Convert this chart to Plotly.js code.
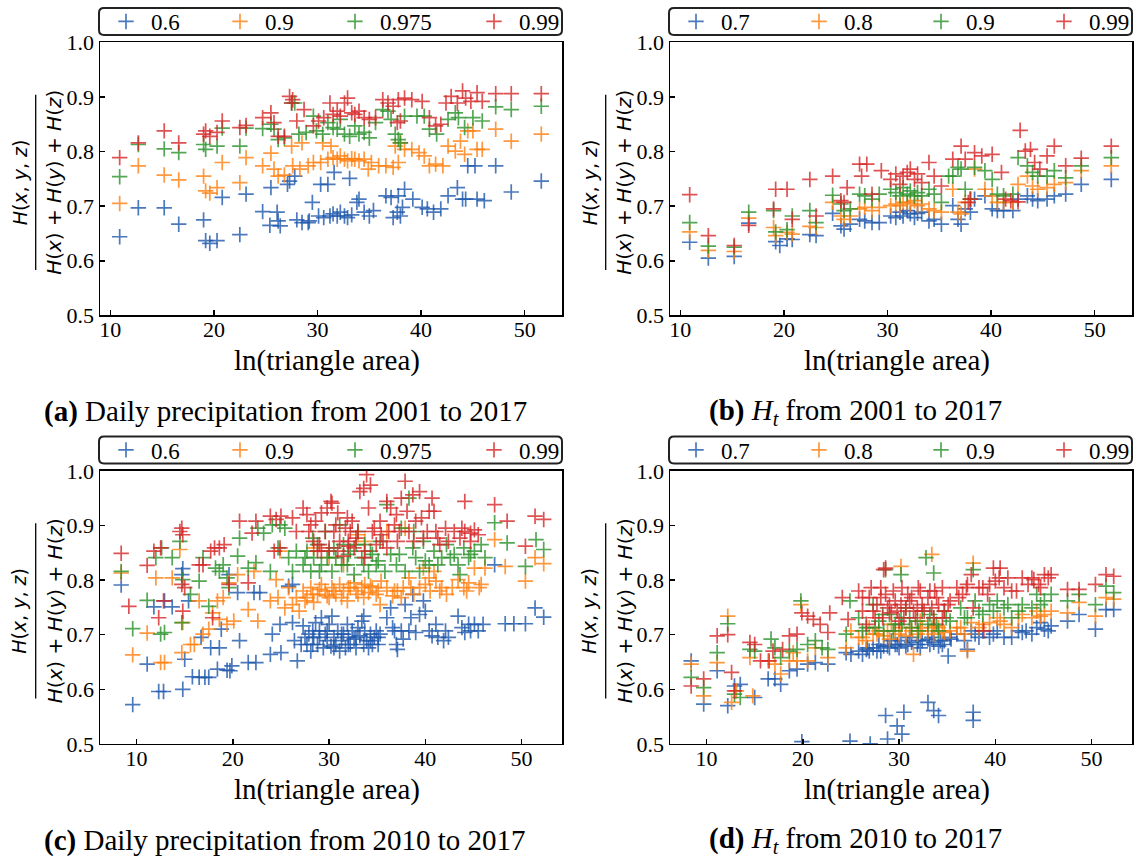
<!DOCTYPE html>
<html><head><meta charset="utf-8">
<script src="https://cdn.plot.ly/plotly-3.0.1.min.js"></script>
<style>html,body{margin:0;padding:0;background:#fff}#chart{width:1140px;height:859px}</style>
</head><body><div id="chart"></div>
<script>
const W = 1140, H = 859;

// ---------- labels ----------
const labelsPrecip = ['0.6', '0.9', '0.975', '0.99'];
const labelsHt = ['0.7', '0.8', '0.9', '0.99'];
const captionTexts = [
  '<b>(a)</b> Daily precipitation from 2001 to 2017',
  '<b>(b)</b> <i>H</i><sub><i>t</i></sub> from 2001 to 2017',
  '<b>(c)</b> Daily precipitation from 2010 to 2017',
  '<b>(d)</b> <i>H</i><sub><i>t</i></sub> from 2010 to 2017'
];
const xTitle = 'ln(triangle area)';
const yNum = '<i>H</i>(<i>x</i>, <i>y</i>, <i>z</i>)';
const yDen = '<i>H</i>(<i>x</i>) + <i>H</i>(<i>y</i>) + <i>H</i>(<i>z</i>)';
const colors = ['#1f58ad', '#ff7f0e', '#2a922a', '#d62728'];

// ---------- panel (a) ----------
const a1x = [10.9,12.7,15.2,16.6,19.0,19.2,19.6,20.3,20.8,22.5,23.1,25.5,24.7,26.1,26.2,25.4,26.4,27.3,27.8,27.1,28.0,28.5,29.1,29.2,29.5,30.3,31.0,31.6,33.1,30.1,30.6,31.2,31.5,31.9,32.2,32.6,32.9,33.3,33.8,34.0,34.5,35.0,35.4,36.6,37.1,37.3,37.7,38.0,38.2,38.4,37.8,39.2,40.1,40.6,41.2,41.9,42.6,43.5,44.0,44.3,45.4,46.1,44.5,45.2,47.2,48.7,51.6];
const a1y = [0.644,0.697,0.697,0.667,0.675,0.637,0.632,0.637,0.716,0.648,0.722,0.734,0.690,0.689,0.673,0.665,0.664,0.746,0.755,0.740,0.675,0.670,0.670,0.673,0.707,0.740,0.740,0.762,0.751,0.682,0.679,0.682,0.686,0.682,0.689,0.682,0.679,0.684,0.707,0.713,0.689,0.682,0.692,0.719,0.716,0.679,0.689,0.682,0.698,0.731,0.719,0.713,0.698,0.695,0.689,0.695,0.719,0.734,0.713,0.713,0.713,0.710,0.774,0.774,0.774,0.726,0.746];
const a2x = [10.9,12.7,15.2,16.6,19.0,19.2,19.6,20.3,20.8,22.5,23.1,24.7,25.5,25.8,26.2,26.8,28.5,27.5,27.6,28.3,29.1,29.6,30.3,31.0,31.5,31.9,32.2,32.6,32.9,33.3,33.6,34.0,34.5,35.2,34.9,35.9,30.5,31.3,36.6,37.3,37.8,37.5,38.0,38.4,39.1,39.8,40.3,40.8,41.4,42.1,42.6,43.3,43.8,44.2,44.5,45.0,45.4,45.9,47.2,48.7,51.6];
const a2y = [0.705,0.774,0.757,0.748,0.755,0.728,0.724,0.734,0.780,0.743,0.789,0.774,0.797,0.768,0.755,0.757,0.816,0.810,0.774,0.768,0.774,0.780,0.780,0.786,0.789,0.786,0.792,0.786,0.783,0.787,0.786,0.783,0.786,0.780,0.768,0.774,0.816,0.810,0.774,0.771,0.780,0.810,0.816,0.804,0.804,0.798,0.792,0.774,0.777,0.774,0.810,0.801,0.819,0.795,0.838,0.838,0.804,0.804,0.841,0.819,0.832];
const a3x = [10.9,12.7,15.2,16.6,19.0,19.2,20.3,20.8,22.5,23.1,24.7,25.5,25.8,26.2,26.8,27.5,27.8,28.2,28.9,29.6,29.9,30.5,31.0,31.5,31.9,32.2,32.6,33.1,33.6,34.0,34.5,35.0,35.6,36.3,36.8,37.1,37.5,37.8,38.0,38.4,39.6,40.3,40.8,41.5,42.6,43.3,43.6,44.2,45.0,45.9,47.2,48.7,51.6];
const a3y = [0.754,0.813,0.805,0.798,0.813,0.804,0.810,0.843,0.810,0.843,0.842,0.850,0.841,0.822,0.825,0.889,0.889,0.832,0.835,0.865,0.838,0.832,0.853,0.844,0.841,0.859,0.832,0.828,0.847,0.832,0.835,0.825,0.853,0.877,0.874,0.859,0.832,0.822,0.816,0.865,0.865,0.865,0.841,0.832,0.859,0.871,0.862,0.844,0.862,0.856,0.882,0.877,0.883];
const a4x = [10.9,12.7,15.2,16.6,19.0,19.2,19.6,20.3,20.8,22.5,23.1,24.7,25.5,25.8,26.2,26.8,27.3,27.6,27.5,28.0,28.7,29.6,30.1,30.6,31.2,31.5,31.9,32.2,32.6,32.9,33.3,33.6,34.0,34.5,35.0,35.6,36.3,36.8,37.3,37.7,38.0,37.8,38.4,39.1,40.1,40.8,41.4,41.9,42.4,42.9,43.5,44.0,44.3,44.8,45.4,45.9,47.2,48.7,51.6];
const a4y = [0.789,0.816,0.838,0.816,0.832,0.838,0.828,0.835,0.856,0.844,0.848,0.862,0.871,0.853,0.828,0.828,0.901,0.895,0.889,0.856,0.877,0.847,0.856,0.862,0.889,0.868,0.874,0.865,0.889,0.898,0.871,0.868,0.874,0.862,0.859,0.862,0.895,0.889,0.883,0.853,0.856,0.895,0.898,0.895,0.892,0.862,0.847,0.850,0.889,0.901,0.889,0.911,0.898,0.892,0.908,0.892,0.906,0.906,0.906];

// ---------- panel (b) ----------
const b1x = [10.9,12.7,15.2,16.6,19.2,19.6,20.3,20.8,22.5,23.1,24.7,25.5,25.8,26.4,27.3,27.8,28.5,29.2,30.3,30.8,31.2,31.5,31.9,32.2,32.6,32.9,33.3,34.0,34.5,35.2,36.3,36.8,37.1,37.5,38.0,38.4,39.4,40.1,40.6,41.2,42.1,42.6,43.5,44.0,44.5,45.4,46.1,47.2,48.7,51.6];
const b1y = [0.634,0.605,0.608,0.669,0.635,0.628,0.640,0.639,0.648,0.646,0.687,0.664,0.658,0.667,0.676,0.673,0.670,0.670,0.682,0.679,0.689,0.682,0.692,0.686,0.679,0.687,0.689,0.673,0.676,0.667,0.701,0.676,0.667,0.695,0.689,0.713,0.719,0.695,0.692,0.692,0.692,0.713,0.719,0.713,0.710,0.713,0.719,0.722,0.740,0.749];
const b2x = [10.9,12.7,15.2,16.6,19.0,19.2,20.3,20.8,22.5,23.1,24.7,25.5,25.8,26.4,27.3,27.8,28.5,29.2,30.3,30.8,31.2,31.5,31.9,32.2,32.6,32.9,33.3,34.0,34.5,35.2,36.3,36.8,37.1,37.5,38.0,38.4,39.4,40.1,40.6,41.2,42.1,42.6,43.5,44.0,44.5,45.4,46.1,47.2,48.7,51.6];
const b2y = [0.653,0.619,0.617,0.678,0.661,0.646,0.652,0.649,0.663,0.661,0.707,0.682,0.676,0.682,0.695,0.698,0.692,0.698,0.701,0.704,0.701,0.707,0.707,0.704,0.710,0.701,0.704,0.695,0.692,0.689,0.731,0.689,0.686,0.707,0.713,0.768,0.731,0.719,0.707,0.707,0.707,0.740,0.755,0.737,0.731,0.734,0.740,0.743,0.765,0.774];
const b3x = [10.9,12.7,15.2,16.6,19.0,19.2,20.3,20.8,22.5,23.1,24.7,25.5,25.8,26.4,27.3,27.8,28.5,29.2,30.3,30.8,31.2,31.5,31.9,32.2,32.6,32.9,33.3,34.0,34.5,35.2,35.9,36.3,36.8,37.1,37.5,38.0,38.4,39.4,40.1,40.6,41.2,42.1,42.6,43.5,44.0,44.5,45.4,46.1,47.2,48.7,51.6];
const b3y = [0.670,0.627,0.625,0.689,0.692,0.653,0.657,0.682,0.692,0.670,0.720,0.704,0.692,0.695,0.722,0.719,0.713,0.722,0.731,0.725,0.719,0.734,0.722,0.728,0.719,0.725,0.719,0.731,0.722,0.707,0.755,0.755,0.771,0.768,0.731,0.713,0.771,0.765,0.749,0.722,0.719,0.722,0.789,0.774,0.762,0.755,0.755,0.765,0.752,0.774,0.789];
const b4x = [10.9,12.7,15.2,16.6,19.0,19.2,20.3,20.8,22.5,23.1,24.7,25.5,25.8,26.1,27.3,28.0,27.5,28.5,29.4,30.3,30.8,31.2,31.5,31.9,32.2,32.6,32.9,33.3,34.0,34.5,35.2,36.3,37.1,37.5,38.0,38.4,37.8,39.1,40.1,41.0,41.4,41.9,42.6,42.8,43.3,43.8,44.2,44.7,45.4,46.1,47.2,48.7,51.6];
const b4y = [0.721,0.646,0.628,0.665,0.695,0.731,0.731,0.676,0.749,0.682,0.755,0.710,0.707,0.734,0.777,0.777,0.755,0.722,0.765,0.749,0.759,0.740,0.755,0.762,0.768,0.749,0.759,0.743,0.780,0.755,0.737,0.786,0.810,0.786,0.713,0.798,0.707,0.792,0.795,0.762,0.713,0.710,0.708,0.839,0.801,0.804,0.780,0.768,0.792,0.810,0.774,0.788,0.810];

// ---------- panel (c) ----------
const c1x = [8.4,9.6,11.1,11.8,12.3,12.8,12.9,13.7,14.7,14.8,14.8,15.0,15.4,15.8,16.5,16.7,17.1,17.5,17.7,18.4,18.6,18.8,19.4,19.7,19.9,19.6,20.5,20.7,21.6,22.4,22.2,22.8,23.9,24.1,24.9,25.0,25.8,26.2,26.2,26.4,26.7,27.1,
  27.3,27.7,27.9,28.1,28.3,28.4,28.6,28.8,29.0,29.2,29.4,29.6,29.8,30.0,30.2,30.3,30.5,30.7,30.9,31.1,31.3,31.5,31.7,31.9,32.0,32.2,32.4,32.6,32.8,33.0,33.2,33.4,33.6,33.7,33.9,34.1,34.3,34.5,34.7,34.9,35.1,35.3,
  36.0,36.4,36.6,37.0,37.1,37.5,37.7,37.9,38.3,38.7,39.0,39.4,39.8,40.0,40.4,40.7,41.1,41.3,41.9,42.4,43.4,43.8,44.1,44.5,45.1,45.5,46.0,47.2,48.3,49.2,50.4,51.4,52.3,
  27.5,28.3,29.0,29.8,30.5,31.3,32.0,32.8,33.6,34.3,35.1,36.8,38.5,42.1,44.7];
const c1y = [0.791,0.572,0.646,0.751,0.596,0.596,0.762,0.751,0.810,0.821,0.600,0.655,0.762,0.623,0.622,0.695,0.622,0.622,0.676,0.637,0.676,0.710,0.635,0.634,0.643,0.810,0.777,0.689,0.649,0.649,0.777,0.777,0.664,0.701,0.719,0.667,0.789,0.792,0.722,0.689,0.652,0.682,
  0.716,0.682,0.701,0.670,0.707,0.695,0.722,0.682,0.707,0.731,0.676,0.701,0.689,0.719,0.679,0.734,0.695,0.682,0.707,0.670,0.689,0.701,0.676,0.719,0.695,0.682,0.707,0.692,0.676,0.713,0.698,0.725,0.734,0.707,0.689,0.676,0.701,0.682,0.695,0.707,0.682,0.701,
  0.731,0.749,0.713,0.682,0.673,0.707,0.692,0.755,0.707,0.774,0.704,0.737,0.762,0.743,0.707,0.698,0.719,0.695,0.689,0.695,0.734,0.713,0.704,0.719,0.719,0.707,0.719,0.828,0.720,0.720,0.720,0.749,0.732,
  0.695,0.682,0.695,0.707,0.676,0.701,0.682,0.695,0.682,0.689,0.695,0.707,0.731,0.707,0.707];
const c2x = [8.4,9.6,11.1,12.0,12.5,12.9,13.7,14.5,14.7,14.8,15.6,16.0,16.5,16.9,17.5,17.9,18.4,18.6,19.0,19.4,20.1,19.6,20.5,21.6,22.6,22.2,23.9,24.5,24.7,24.9,25.4,25.8,26.2,26.6,26.9,
  27.3,27.7,28.1,28.4,28.8,29.2,29.6,30.0,30.3,30.7,31.1,31.5,31.9,32.2,32.6,33.0,33.4,33.7,34.1,34.5,34.9,35.3,28.4,30.0,31.5,33.0,33.7,36.0,37.9,
  36.0,36.6,37.1,37.7,38.3,38.8,39.4,40.0,40.5,41.1,41.7,42.2,39.8,40.9,43.4,44.0,44.5,45.1,45.8,46.2,47.2,48.3,50.4,51.4,52.3,
  27.5,28.3,29.0,29.8,30.5,31.3,32.0,32.8,33.6,34.3,35.1,35.4,36.8,37.5,38.5,40.4,41.5,42.8,44.3,45.6];
const c2y = [0.813,0.663,0.703,0.804,0.649,0.649,0.804,0.856,0.667,0.722,0.682,0.682,0.762,0.701,0.710,0.740,0.762,0.728,0.768,0.719,0.725,0.795,0.810,0.746,0.725,0.816,0.762,0.801,0.768,0.853,0.749,0.786,0.755,0.768,0.743,
  0.780,0.768,0.786,0.759,0.774,0.792,0.780,0.768,0.786,0.774,0.792,0.780,0.762,0.786,0.795,0.774,0.786,0.792,0.777,0.786,0.774,0.755,0.859,0.841,0.828,0.883,0.871,0.889,0.895,
  0.786,0.771,0.780,0.786,0.804,0.774,0.786,0.792,0.780,0.798,0.786,0.774,0.822,0.816,0.801,0.786,0.795,0.822,0.792,0.822,0.874,0.825,0.798,0.841,0.830,
  0.762,0.774,0.783,0.771,0.780,0.768,0.786,0.780,0.768,0.789,0.780,0.798,0.780,0.768,0.786,0.804,0.780,0.786,0.780,0.786];
const c3x = [8.4,9.6,11.1,12.0,12.5,12.9,12.6,13.7,14.5,14.7,14.8,15.6,16.5,16.9,17.5,18.2,18.6,19.0,19.4,19.6,20.5,20.7,21.6,22.4,22.6,23.2,23.9,24.1,24.7,24.9,25.4,25.8,26.2,26.6,
  27.3,27.7,28.1,28.4,28.8,29.2,29.6,30.0,30.3,30.7,31.1,31.5,31.9,32.2,32.6,33.0,33.4,33.7,34.1,34.5,34.9,35.3,
  36.0,36.4,37.0,37.5,37.9,38.3,38.7,39.0,39.4,39.8,40.4,40.9,41.7,42.2,43.0,43.6,44.0,44.5,45.1,45.8,46.2,47.2,48.5,50.4,51.5,52.3,
  27.5,28.3,29.0,29.8,30.5,31.3,32.0,32.8,33.6,34.3,35.1,35.8,37.3,38.8,40.0,41.3,42.6,43.4,44.7];
const c3y = [0.816,0.711,0.763,0.841,0.701,0.704,0.859,0.841,0.871,0.722,0.801,0.774,0.798,0.841,0.752,0.822,0.816,0.828,0.804,0.786,0.844,0.877,0.822,0.832,0.895,0.886,0.816,0.901,0.859,0.901,0.895,0.841,0.816,0.853,
  0.828,0.853,0.816,0.841,0.865,0.828,0.889,0.853,0.816,0.841,0.901,0.865,0.828,0.853,0.810,0.889,0.841,0.865,0.816,0.847,0.828,0.871,
  0.938,0.847,0.828,0.895,0.816,0.950,0.859,0.841,0.816,0.871,0.828,0.853,0.841,0.865,0.847,0.810,0.859,0.841,0.853,0.865,0.841,0.905,0.868,0.825,0.874,0.856,
  0.841,0.877,0.816,0.841,0.859,0.828,0.847,0.865,0.828,0.853,0.835,0.816,0.847,0.889,0.835,0.828,0.841,0.828,0.847];
const c4x = [8.4,9.2,11.1,11.8,12.5,12.3,12.8,14.7,14.8,14.5,14.7,14.8,15.0,16.5,16.9,17.7,18.1,17.9,18.6,19.1,19.6,20.7,21.6,22.0,22.4,23.9,24.5,25.0,24.3,24.9,26.2,26.6,
  27.3,27.7,28.1,28.4,28.8,29.2,29.6,30.0,30.2,30.3,30.7,31.1,31.5,31.9,32.2,32.6,33.0,33.2,33.6,33.9,34.3,34.5,34.9,35.3,29.0,30.9,32.0,33.7,35.6,
  36.0,36.4,36.8,37.1,37.5,37.9,38.3,38.7,39.0,39.4,39.8,40.4,40.7,41.1,41.5,42.1,43.0,43.6,44.1,44.7,44.1,45.1,47.2,48.5,50.4,51.4,52.3,
  27.9,28.6,29.8,30.5,30.9,31.7,32.0,32.4,32.8,34.1,34.7,35.4,36.2,37.0,37.3,38.1,38.8,39.6,40.2,40.9,41.3,42.4,43.8,44.7,45.5,29.2,33.7,36.0];
const c4y = [0.849,0.752,0.827,0.853,0.859,0.731,0.762,0.895,0.883,0.889,0.792,0.743,0.786,0.828,0.828,0.853,0.859,0.731,0.859,0.865,0.792,0.908,0.795,0.886,0.908,0.917,0.911,0.917,0.853,0.859,0.914,0.889,
  0.932,0.920,0.901,0.871,0.853,0.923,0.889,0.859,0.944,0.941,0.901,0.871,0.844,0.914,0.889,0.859,0.889,0.962,0.968,0.993,0.974,0.889,0.865,0.908,0.865,0.853,0.862,0.853,0.871,
  0.944,0.932,0.901,0.871,0.950,0.981,0.889,0.956,0.908,0.962,0.877,0.926,0.950,0.889,0.865,0.895,0.889,0.877,0.889,0.886,0.944,0.892,0.938,0.908,0.862,0.917,0.911,
  0.889,0.908,0.932,0.889,0.923,0.895,0.871,0.908,0.877,0.932,0.895,0.883,0.889,0.920,0.889,0.926,0.871,0.914,0.889,0.926,0.877,0.871,0.895,0.871,0.883,0.853,0.841,0.859];

// ---------- panel (d) ----------
const d1x = [8.4,9.7,11.1,12.2,12.9,13.5,15.0,16.4,17.1,17.7,18.6,19.4,20.5,21.3,22.6,24.5,25.0,
  25.8,26.6,27.3,27.9,28.4,29.0,29.6,30.2,30.7,31.3,31.9,32.4,33.0,33.6,34.1,34.7,35.3,35.1,26.2,26.9,28.1,29.2,30.0,31.1,32.2,33.4,34.5,36.0,
  37.1,36.8,37.5,38.3,39.4,40.2,40.9,41.7,42.8,43.8,44.3,45.1,45.8,47.5,48.7,50.4,51.5,52.3,38.7,42.4,44.7,45.5,
  26.7,27.7,28.8,29.8,30.9,32.0,33.2,34.3,35.4,37.9,39.8,43.2,
  28.6,29.8,30.3,30.5,28.8,33.0,33.6,34.1,37.7,37.7,24.9,27.0,19.9];
const d1y = [0.652,0.573,0.634,0.570,0.606,0.609,0.585,0.619,0.619,0.609,0.634,0.637,0.646,0.649,0.646,0.667,0.664,
  0.670,0.673,0.676,0.682,0.679,0.676,0.682,0.689,0.679,0.686,0.682,0.689,0.692,0.686,0.679,0.689,0.695,0.661,0.664,0.670,0.670,0.689,0.676,0.695,0.676,0.695,0.682,0.701,
  0.673,0.689,0.707,0.695,0.695,0.707,0.695,0.695,0.704,0.701,0.713,0.710,0.716,0.725,0.737,0.710,0.746,0.746,0.707,0.707,0.722,0.707,
  0.676,0.670,0.679,0.682,0.682,0.689,0.682,0.689,0.692,0.701,0.701,0.707,
  0.552,0.533,0.518,0.558,0.509,0.576,0.561,0.552,0.558,0.543,0.505,0.500,0.504];
const d2x = [8.4,9.7,11.1,12.2,12.6,13.1,14.8,14.5,16.4,17.1,17.7,18.6,19.0,19.8,19.4,20.5,21.3,22.6,24.5,25.0,
  25.8,26.6,27.3,27.9,28.4,29.0,29.6,30.2,30.7,31.3,31.9,32.4,33.0,33.6,34.1,34.7,35.3,30.2,33.4,37.7,31.5,26.9,29.2,32.2,33.7,36.0,
  37.1,36.8,37.5,38.3,39.4,40.2,40.9,41.7,42.8,43.8,44.3,45.1,45.8,47.5,48.7,50.4,51.5,52.3,
  26.2,27.7,28.8,30.0,31.1,32.2,33.4,34.5,36.4,38.7,40.5,42.4,44.7];
const d2y = [0.646,0.588,0.649,0.734,0.576,0.597,0.588,0.658,0.652,0.646,0.628,0.652,0.667,0.755,0.652,0.652,0.676,0.658,0.676,0.707,
  0.695,0.689,0.701,0.707,0.698,0.692,0.707,0.713,0.698,0.707,0.701,0.713,0.707,0.701,0.713,0.704,0.707,0.825,0.847,0.831,0.664,0.713,0.719,0.725,0.716,0.713,
  0.670,0.701,0.722,0.713,0.722,0.731,0.719,0.713,0.737,0.731,0.743,0.737,0.743,0.740,0.759,0.734,0.768,0.765,
  0.695,0.701,0.707,0.701,0.713,0.707,0.713,0.707,0.713,0.719,0.725,0.731,0.734];
const d3x = [8.4,9.7,11.1,12.2,12.9,13.5,14.5,15.0,16.7,17.1,17.7,18.6,19.4,19.8,20.5,21.3,22.0,22.6,24.9,24.5,
  25.8,26.6,27.3,27.9,28.4,29.0,29.6,30.2,30.7,31.3,31.9,32.4,33.0,33.6,34.1,34.7,35.3,28.6,30.2,32.8,33.6,37.7,
  36.4,37.1,37.9,38.7,39.4,40.2,40.9,41.7,42.8,43.8,44.3,45.1,45.8,47.5,48.7,50.4,51.5,52.3,
  26.2,27.5,28.3,29.4,30.3,31.1,32.0,33.2,33.9,34.9,36.8,38.3,39.8,41.3,42.4,44.7];
const d3y = [0.622,0.603,0.667,0.720,0.591,0.585,0.673,0.670,0.692,0.676,0.658,0.670,0.673,0.762,0.682,0.689,0.676,0.673,0.762,0.701,
  0.731,0.713,0.755,0.725,0.707,0.737,0.719,0.731,0.749,0.713,0.725,0.743,0.719,0.731,0.707,0.743,0.725,0.819,0.810,0.841,0.813,0.819,
  0.749,0.731,0.762,0.737,0.755,0.762,0.749,0.731,0.755,0.749,0.774,0.762,0.774,0.762,0.774,0.755,0.789,0.777,
  0.707,0.713,0.737,0.707,0.719,0.731,0.707,0.737,0.719,0.731,0.731,0.743,0.743,0.755,0.743,0.755];
const d4x = [8.4,9.7,11.1,12.2,12.6,12.9,14.5,15.0,15.6,16.5,16.9,17.9,18.6,19.4,19.9,20.5,21.1,21.8,22.8,22.6,24.1,24.7,
  25.8,26.2,26.6,27.1,27.7,28.3,28.6,29.2,29.6,30.0,30.3,30.7,31.3,31.7,32.2,32.6,33.0,33.6,34.1,34.7,35.3,28.6,28.4,28.1,29.0,29.8,31.1,31.9,33.4,34.5,33.7,27.3,
  36.0,36.6,37.1,37.7,38.3,38.8,39.4,39.8,40.4,40.9,41.7,42.8,43.4,44.0,44.7,45.1,45.8,47.5,48.7,50.4,51.5,52.3,
  26.2,26.9,27.5,28.1,28.8,29.4,30.2,30.5,30.9,31.5,32.0,32.4,33.2,33.9,34.5,35.1,36.2,37.0,37.5,38.7,39.2,40.0,40.5,41.3,42.2,43.8,44.5,45.5];
const d4y = [0.606,0.619,0.698,0.700,0.631,0.597,0.686,0.682,0.652,0.652,0.670,0.673,0.698,0.701,0.740,0.734,0.728,0.719,0.740,0.704,0.768,0.728,
  0.780,0.743,0.719,0.786,0.755,0.731,0.774,0.740,0.762,0.725,0.786,0.749,0.768,0.731,0.780,0.743,0.768,0.731,0.755,0.743,0.762,0.822,0.819,0.768,0.755,0.743,0.762,0.749,0.749,0.731,0.780,0.743,
  0.786,0.774,0.792,0.749,0.786,0.707,0.792,0.822,0.804,0.786,0.780,0.804,0.792,0.801,0.786,0.810,0.810,0.783,0.783,0.792,0.810,0.807,
  0.768,0.768,0.731,0.786,0.749,0.780,0.755,0.731,0.774,0.743,0.786,0.755,0.780,0.768,0.786,0.755,0.768,0.786,0.810,0.786,0.774,0.798,0.822,0.804,0.780,0.804,0.792,0.804];

// ---------- assemble ----------
const panels = [
  {xs:[a1x,a2x,a3x,a4x], ys:[a1y,a2y,a3y,a4y], labels:labelsPrecip, xr:[9,53.6], ox:0, oy:0, leg:[126,240,355,494]},
  {xs:[b1x,b2x,b3x,b4x], ys:[b1y,b2y,b3y,b4y], labels:labelsHt, xr:[9,53.6], ox:570, oy:0, leg:[126,249,371,494]},
  {xs:[c1x,c2x,c3x,c4x], ys:[c1y,c2y,c3y,c4y], labels:labelsPrecip, xr:[6.2,54.2], ox:0, oy:430, leg:[126,240,355,494]},
  {xs:[d1x,d2x,d3x,d4x], ys:[d1y,d2y,d3y,d4y], labels:labelsHt, xr:[6.2,54.2], ox:570, oy:430, leg:[126,249,371,494]}
];

const px = v => v / W;
const py = v => 1 - v / H;
const SERIF = 'Liberation Serif, Times New Roman, serif';
const SANS = 'DejaVu Sans, sans-serif';

const data = [];
const layout = {
  width: W, height: H,
  margin: {l:0, r:0, t:0, b:0},
  paper_bgcolor: '#fff', plot_bgcolor: '#fff',
  showlegend: true,
  font: {family: SERIF, color: '#000'},
  shapes: [], annotations: []
};

function rrect(x0, y0, x1, y1, r) {
  const P = (x, y) => px(x).toFixed(5) + ',' + py(y).toFixed(5);
  return 'M' + P(x0 + r, y0) + ' L' + P(x1 - r, y0) + ' Q' + P(x1, y0) + ' ' + P(x1, y0 + r) +
    ' L' + P(x1, y1 - r) + ' Q' + P(x1, y1) + ' ' + P(x1 - r, y1) +
    ' L' + P(x0 + r, y1) + ' Q' + P(x0, y1) + ' ' + P(x0, y1 - r) +
    ' L' + P(x0, y0 + r) + ' Q' + P(x0, y0) + ' ' + P(x0 + r, y0) + ' Z';
}

panels.forEach((p, i) => {
  const sfx = i === 0 ? '' : String(i + 1);
  const ox = p.ox, oy = p.oy;
  const axCommon = {
    showline: true, linecolor: '#000', linewidth: 1.5, mirror: true,
    ticks: 'inside', ticklen: 5, tickwidth: 1.5, tickcolor: '#000',
    showgrid: false, zeroline: false,
    tickfont: {family: SERIF, size: 22, color: '#000'}
  };
  layout['xaxis' + sfx] = Object.assign({}, axCommon, {
    domain: [px(100 + ox), px(562 + ox)], anchor: 'y' + sfx,
    range: p.xr, tickmode: 'linear', tick0: 10, dtick: 10,
    ticklabelstandoff: -6
  });
  layout['yaxis' + sfx] = Object.assign({}, axCommon, {
    domain: [py(313.5 + oy), py(39.5 + oy)], anchor: 'x' + sfx,
    range: [0.5, 1.0], tickmode: 'linear', tick0: 0.5, dtick: 0.1, tickformat: '.1f'
  });

  p.xs.forEach((xv, k) => {
    const legId = (i * 4 + k) === 0 ? 'legend' : 'legend' + (i * 4 + k + 1);
    data.push({
      type: 'scatter', mode: 'markers',
      x: xv, y: p.ys[k],
      xaxis: 'x' + sfx, yaxis: 'y' + sfx,
      name: p.labels[k], legend: legId,
      hoverinfo: 'skip',
      marker: {symbol: 'cross-thin', size: 11, color: colors[k], opacity: 0.8,
               line: {width: 1.7, color: colors[k]}}
    });
    layout[legId] = {
      x: px(p.leg[k] - 25 + ox), y: py(18.5 + oy),
      xanchor: 'left', yanchor: 'middle', xref: 'paper', yref: 'paper',
      orientation: 'h', bgcolor: 'rgba(0,0,0,0)', borderwidth: 0,
      itemwidth: 40,
      font: {family: SERIF, size: 23, color: '#000'}
    };
  });

  // legend frame
  layout.shapes.push({type: 'path', xref: 'paper', yref: 'paper',
    path: rrect(99 + ox, 5 + oy, 562 + ox, 32 + oy, 5),
    line: {color: '#222', width: 2}, fillcolor: 'rgba(0,0,0,0)'});
  // fraction bar of the y label
  layout.shapes.push({type: 'line', xref: 'paper', yref: 'paper',
    x0: px(35.7 + ox), x1: px(35.7 + ox), y0: py(92 + oy), y1: py(268 + oy),
    line: {color: '#000', width: 1.3}});
  // y label numerator / denominator
  layout.annotations.push({xref: 'paper', yref: 'paper', x: px(19.5 + ox), y: py(180.5 + oy),
    text: yNum, textangle: -90, showarrow: false, xanchor: 'center', yanchor: 'middle',
    font: {family: SANS, size: 19, color: '#000'}});
  layout.annotations.push({xref: 'paper', yref: 'paper', x: px(54.5 + ox), y: py(180 + oy),
    text: yDen, textangle: -90, showarrow: false, xanchor: 'center', yanchor: 'middle',
    font: {family: SANS, size: 20, color: '#000'}});
  // x axis title
  layout.annotations.push({xref: 'paper', yref: 'paper', x: px(327 + ox), y: py(359 + oy),
    text: xTitle, showarrow: false, xanchor: 'center', yanchor: 'middle',
    font: {family: SERIF, size: 29, color: '#000'}});
  // caption
  layout.annotations.push({xref: 'paper', yref: 'paper', x: px(285 + ox), y: py(410 + oy),
    text: captionTexts[i], showarrow: false, xanchor: 'center', yanchor: 'middle',
    font: {family: SERIF, size: 29, color: '#000'}});
});

Plotly.newPlot('chart', data, layout, {displayModeBar: false, staticPlot: true});
</script>
</body></html>
